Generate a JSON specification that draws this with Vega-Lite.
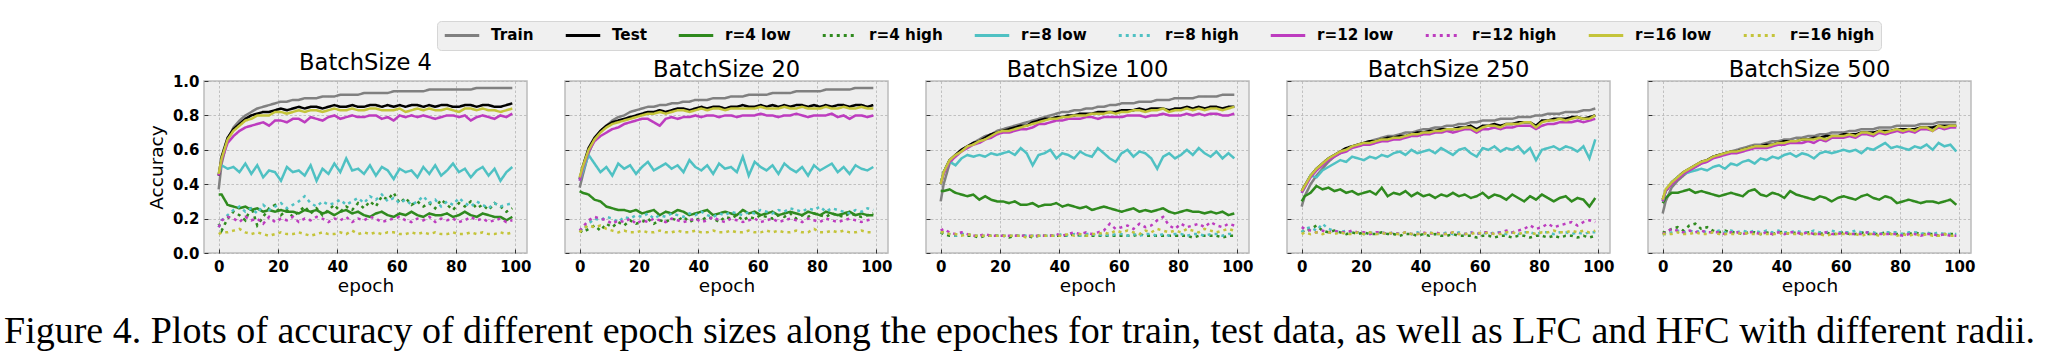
{
"$schema":"https://vega.github.io/schema/vega-lite/v6.json",
"background":"white",
"padding":{"left":4,"top":20,"right":0,"bottom":0},
"title":{"text":"Figure 4. Plots of accuracy of different epoch sizes along the epoches for train, test data, as well as LFC and HFC with different radii.","orient":"bottom","anchor":"start","frame":"group","font":"Liberation Serif","fontSize":38,"fontWeight":"normal","color":"#000000","offset":18,"dx":-200,"dy":0},
"datasets":{
"names":[{"k":"A","s":"Train"},{"k":"B","s":"Test"},{"k":"C","s":"r=4 low"},{"k":"D","s":"r=4 high"},{"k":"E","s":"r=8 low"},{"k":"F","s":"r=8 high"},{"k":"G","s":"r=12 low"},{"k":"H","s":"r=12 high"},{"k":"I","s":"r=16 low"},{"k":"J","s":"r=16 high"}],
"b4":[
{"e":0,"A":37,"B":45,"C":34,"D":17,"E":46,"F":15,"G":45,"H":15,"I":46,"J":11},
{"e":1,"A":52,"B":56,"C":34,"D":13,"E":51,"F":19,"G":54,"H":19,"I":55,"J":12},
{"e":3,"A":66,"B":67,"C":28,"D":20,"E":49,"F":22,"G":64,"H":21,"I":66,"J":12},
{"e":5,"A":73,"B":72,"C":27,"D":24,"E":50,"F":25,"G":68,"H":20,"I":71,"J":13},
{"e":7,"A":77,"B":75,"C":26,"D":22,"E":47,"F":27,"G":71,"H":18,"I":74,"J":14},
{"e":9,"A":80,"B":78,"C":27,"D":19,"E":52,"F":24,"G":73,"H":21,"I":77,"J":12},
{"e":11,"A":82,"B":80,"C":25,"D":27,"E":46,"F":26,"G":74,"H":19,"I":78,"J":11},
{"e":13,"A":84,"B":81,"C":26,"D":16,"E":51,"F":23,"G":75,"H":20,"I":80,"J":12},
{"e":15,"A":85,"B":82,"C":24,"D":21,"E":44,"F":28,"G":76,"H":17,"I":80,"J":11},
{"e":17,"A":86,"B":82,"C":25,"D":26,"E":48,"F":25,"G":74,"H":21,"I":80,"J":10},
{"e":19,"A":87,"B":83,"C":24,"D":28,"E":47,"F":27,"G":77,"H":18,"I":82,"J":11},
{"e":21,"A":88,"B":84,"C":25,"D":22,"E":42,"F":29,"G":77,"H":20,"I":82,"J":12},
{"e":23,"A":88,"B":83,"C":24,"D":25,"E":50,"F":26,"G":76,"H":19,"I":81,"J":11},
{"e":25,"A":89,"B":84,"C":24,"D":21,"E":47,"F":28,"G":78,"H":21,"I":82,"J":11},
{"e":27,"A":89,"B":85,"C":23,"D":24,"E":48,"F":30,"G":78,"H":18,"I":83,"J":12},
{"e":29,"A":90,"B":84,"C":25,"D":27,"E":45,"F":33,"G":76,"H":20,"I":82,"J":11},
{"e":31,"A":90,"B":85,"C":24,"D":23,"E":51,"F":29,"G":79,"H":19,"I":83,"J":10},
{"e":33,"A":90,"B":85,"C":25,"D":26,"E":42,"F":27,"G":78,"H":21,"I":83,"J":11},
{"e":35,"A":91,"B":84,"C":23,"D":22,"E":49,"F":30,"G":77,"H":20,"I":82,"J":12},
{"e":37,"A":91,"B":85,"C":24,"D":25,"E":46,"F":28,"G":79,"H":18,"I":83,"J":11},
{"e":39,"A":91,"B":86,"C":22,"D":28,"E":52,"F":29,"G":80,"H":20,"I":84,"J":11},
{"e":41,"A":92,"B":85,"C":24,"D":24,"E":47,"F":31,"G":78,"H":19,"I":83,"J":12},
{"e":43,"A":92,"B":85,"C":25,"D":27,"E":55,"F":28,"G":79,"H":21,"I":83,"J":11},
{"e":45,"A":92,"B":86,"C":23,"D":25,"E":48,"F":30,"G":80,"H":18,"I":84,"J":13},
{"e":47,"A":92,"B":85,"C":24,"D":29,"E":49,"F":32,"G":79,"H":20,"I":83,"J":11},
{"e":49,"A":93,"B":85,"C":22,"D":26,"E":46,"F":29,"G":79,"H":19,"I":83,"J":12},
{"e":51,"A":93,"B":86,"C":21,"D":30,"E":51,"F":33,"G":80,"H":21,"I":84,"J":11},
{"e":53,"A":93,"B":86,"C":23,"D":27,"E":45,"F":31,"G":80,"H":20,"I":84,"J":12},
{"e":55,"A":93,"B":85,"C":24,"D":33,"E":50,"F":34,"G":78,"H":18,"I":83,"J":11},
{"e":57,"A":93,"B":86,"C":22,"D":31,"E":48,"F":30,"G":79,"H":19,"I":83,"J":12},
{"e":59,"A":94,"B":85,"C":21,"D":35,"E":43,"F":32,"G":77,"H":20,"I":83,"J":12},
{"e":61,"A":94,"B":86,"C":23,"D":29,"E":49,"F":29,"G":80,"H":21,"I":84,"J":11},
{"e":63,"A":94,"B":85,"C":22,"D":32,"E":47,"F":31,"G":79,"H":19,"I":82,"J":11},
{"e":65,"A":94,"B":86,"C":24,"D":28,"E":48,"F":28,"G":80,"H":18,"I":83,"J":12},
{"e":67,"A":94,"B":86,"C":22,"D":30,"E":44,"F":30,"G":79,"H":20,"I":84,"J":11},
{"e":69,"A":94,"B":85,"C":21,"D":27,"E":50,"F":33,"G":80,"H":19,"I":83,"J":12},
{"e":71,"A":95,"B":86,"C":23,"D":29,"E":46,"F":29,"G":79,"H":21,"I":84,"J":11},
{"e":73,"A":95,"B":85,"C":22,"D":26,"E":51,"F":31,"G":78,"H":18,"I":83,"J":12},
{"e":75,"A":95,"B":86,"C":22,"D":31,"E":45,"F":27,"G":79,"H":20,"I":83,"J":11},
{"e":77,"A":95,"B":86,"C":23,"D":28,"E":48,"F":30,"G":80,"H":19,"I":84,"J":11},
{"e":79,"A":95,"B":85,"C":21,"D":25,"E":52,"F":28,"G":80,"H":20,"I":83,"J":12},
{"e":81,"A":95,"B":85,"C":22,"D":29,"E":47,"F":32,"G":79,"H":18,"I":82,"J":11},
{"e":83,"A":95,"B":86,"C":24,"D":27,"E":49,"F":29,"G":80,"H":19,"I":84,"J":11},
{"e":85,"A":95,"B":86,"C":22,"D":30,"E":44,"F":27,"G":77,"H":21,"I":84,"J":12},
{"e":87,"A":96,"B":85,"C":21,"D":26,"E":48,"F":30,"G":79,"H":19,"I":83,"J":11},
{"e":89,"A":96,"B":86,"C":23,"D":28,"E":50,"F":28,"G":80,"H":20,"I":84,"J":12},
{"e":91,"A":96,"B":86,"C":22,"D":25,"E":45,"F":26,"G":79,"H":18,"I":83,"J":11},
{"e":93,"A":96,"B":85,"C":21,"D":29,"E":49,"F":29,"G":78,"H":19,"I":83,"J":11},
{"e":95,"A":96,"B":85,"C":21,"D":27,"E":42,"F":27,"G":80,"H":20,"I":82,"J":12},
{"e":97,"A":96,"B":86,"C":19,"D":24,"E":47,"F":28,"G":79,"H":18,"I":83,"J":11},
{"e":99,"A":96,"B":87,"C":21,"D":26,"E":50,"F":29,"G":81,"H":19,"I":84,"J":12}
],
"b20":[
{"e":0,"A":38,"B":43,"C":36,"D":13,"E":42,"F":14,"G":42,"H":13,"I":44,"J":12},
{"e":1,"A":45,"B":50,"C":35,"D":12,"E":47,"F":13,"G":49,"H":15,"I":50,"J":14},
{"e":3,"A":58,"B":61,"C":34,"D":14,"E":57,"F":17,"G":59,"H":19,"I":60,"J":16},
{"e":5,"A":66,"B":67,"C":31,"D":16,"E":52,"F":20,"G":65,"H":21,"I":66,"J":15},
{"e":7,"A":71,"B":71,"C":30,"D":13,"E":47,"F":19,"G":68,"H":20,"I":70,"J":16},
{"e":9,"A":74,"B":74,"C":27,"D":17,"E":50,"F":21,"G":70,"H":19,"I":73,"J":14},
{"e":11,"A":77,"B":76,"C":26,"D":15,"E":45,"F":20,"G":72,"H":17,"I":75,"J":13},
{"e":13,"A":79,"B":77,"C":25,"D":18,"E":52,"F":18,"G":73,"H":19,"I":76,"J":12},
{"e":15,"A":80,"B":78,"C":25,"D":16,"E":49,"F":21,"G":75,"H":18,"I":77,"J":13},
{"e":17,"A":82,"B":79,"C":24,"D":19,"E":51,"F":20,"G":76,"H":20,"I":78,"J":12},
{"e":19,"A":83,"B":80,"C":25,"D":17,"E":46,"F":22,"G":77,"H":17,"I":79,"J":12},
{"e":21,"A":84,"B":81,"C":23,"D":18,"E":50,"F":21,"G":78,"H":19,"I":80,"J":13},
{"e":23,"A":85,"B":82,"C":24,"D":20,"E":53,"F":23,"G":78,"H":18,"I":81,"J":12},
{"e":25,"A":85,"B":82,"C":25,"D":17,"E":48,"F":20,"G":76,"H":20,"I":81,"J":12},
{"e":27,"A":86,"B":83,"C":22,"D":19,"E":50,"F":22,"G":74,"H":19,"I":82,"J":13},
{"e":29,"A":86,"B":82,"C":24,"D":18,"E":52,"F":21,"G":78,"H":18,"I":81,"J":12},
{"e":31,"A":87,"B":83,"C":23,"D":20,"E":49,"F":23,"G":79,"H":20,"I":82,"J":12},
{"e":33,"A":87,"B":84,"C":25,"D":19,"E":51,"F":22,"G":78,"H":19,"I":83,"J":13},
{"e":35,"A":88,"B":84,"C":24,"D":21,"E":47,"F":21,"G":79,"H":18,"I":83,"J":12},
{"e":37,"A":88,"B":83,"C":22,"D":18,"E":54,"F":23,"G":79,"H":19,"I":82,"J":12},
{"e":39,"A":89,"B":84,"C":23,"D":20,"E":50,"F":22,"G":80,"H":20,"I":83,"J":13},
{"e":41,"A":89,"B":85,"C":24,"D":19,"E":48,"F":24,"G":79,"H":18,"I":84,"J":12},
{"e":43,"A":89,"B":84,"C":25,"D":21,"E":51,"F":22,"G":80,"H":19,"I":83,"J":12},
{"e":45,"A":90,"B":85,"C":22,"D":20,"E":46,"F":21,"G":80,"H":21,"I":84,"J":13},
{"e":47,"A":90,"B":85,"C":23,"D":18,"E":52,"F":23,"G":79,"H":19,"I":84,"J":12},
{"e":49,"A":90,"B":84,"C":24,"D":21,"E":49,"F":22,"G":80,"H":18,"I":83,"J":12},
{"e":51,"A":91,"B":85,"C":23,"D":20,"E":50,"F":24,"G":80,"H":20,"I":84,"J":13},
{"e":53,"A":91,"B":85,"C":22,"D":22,"E":47,"F":23,"G":79,"H":19,"I":84,"J":12},
{"e":55,"A":91,"B":86,"C":25,"D":19,"E":56,"F":22,"G":80,"H":18,"I":84,"J":12},
{"e":57,"A":92,"B":85,"C":23,"D":21,"E":45,"F":24,"G":80,"H":19,"I":84,"J":13},
{"e":59,"A":92,"B":85,"C":24,"D":20,"E":53,"F":23,"G":80,"H":20,"I":84,"J":12},
{"e":61,"A":92,"B":86,"C":22,"D":22,"E":50,"F":25,"G":81,"H":18,"I":85,"J":12},
{"e":63,"A":92,"B":85,"C":23,"D":21,"E":48,"F":24,"G":80,"H":19,"I":84,"J":13},
{"e":65,"A":93,"B":86,"C":24,"D":20,"E":51,"F":23,"G":80,"H":20,"I":84,"J":12},
{"e":67,"A":93,"B":85,"C":22,"D":22,"E":46,"F":25,"G":79,"H":18,"I":84,"J":13},
{"e":69,"A":93,"B":86,"C":23,"D":21,"E":52,"F":24,"G":80,"H":19,"I":85,"J":12},
{"e":71,"A":93,"B":85,"C":24,"D":23,"E":49,"F":26,"G":80,"H":20,"I":84,"J":12},
{"e":73,"A":94,"B":86,"C":23,"D":20,"E":47,"F":25,"G":81,"H":19,"I":84,"J":13},
{"e":75,"A":94,"B":86,"C":22,"D":22,"E":50,"F":24,"G":80,"H":18,"I":85,"J":12},
{"e":77,"A":94,"B":85,"C":24,"D":21,"E":45,"F":26,"G":79,"H":20,"I":84,"J":12},
{"e":79,"A":94,"B":86,"C":23,"D":23,"E":51,"F":25,"G":80,"H":19,"I":84,"J":14},
{"e":81,"A":94,"B":85,"C":22,"D":22,"E":48,"F":27,"G":80,"H":18,"I":84,"J":12},
{"e":83,"A":95,"B":86,"C":24,"D":21,"E":50,"F":24,"G":80,"H":20,"I":85,"J":12},
{"e":85,"A":95,"B":85,"C":23,"D":23,"E":52,"F":26,"G":81,"H":19,"I":84,"J":13},
{"e":87,"A":95,"B":86,"C":22,"D":22,"E":47,"F":25,"G":79,"H":18,"I":84,"J":12},
{"e":89,"A":95,"B":86,"C":23,"D":21,"E":50,"F":24,"G":80,"H":19,"I":85,"J":13},
{"e":91,"A":95,"B":85,"C":24,"D":23,"E":46,"F":23,"G":78,"H":20,"I":84,"J":12},
{"e":93,"A":96,"B":86,"C":22,"D":22,"E":51,"F":25,"G":80,"H":19,"I":84,"J":12},
{"e":95,"A":96,"B":86,"C":23,"D":21,"E":49,"F":24,"G":80,"H":18,"I":85,"J":13},
{"e":97,"A":96,"B":85,"C":22,"D":22,"E":48,"F":26,"G":79,"H":19,"I":84,"J":12},
{"e":99,"A":96,"B":86,"C":22,"D":23,"E":50,"F":25,"G":80,"H":20,"I":84,"J":12}
],
"b100":[
{"e":0,"A":30,"B":40,"C":36,"D":12,"E":40,"F":12,"G":40,"H":13,"I":40,"J":12},
{"e":1,"A":40,"B":47,"C":36,"D":11,"E":47,"F":12,"G":46,"H":14,"I":47,"J":12},
{"e":3,"A":52,"B":54,"C":37,"D":10,"E":53,"F":11,"G":53,"H":12,"I":54,"J":11},
{"e":5,"A":57,"B":57,"C":35,"D":10,"E":51,"F":10,"G":56,"H":11,"I":57,"J":11},
{"e":7,"A":60,"B":60,"C":34,"D":11,"E":55,"F":11,"G":59,"H":12,"I":59,"J":10},
{"e":9,"A":62,"B":62,"C":33,"D":10,"E":57,"F":11,"G":61,"H":11,"I":62,"J":11},
{"e":11,"A":64,"B":64,"C":34,"D":10,"E":56,"F":10,"G":63,"H":10,"I":63,"J":10},
{"e":13,"A":66,"B":65,"C":31,"D":9,"E":57,"F":10,"G":64,"H":10,"I":65,"J":10},
{"e":15,"A":68,"B":67,"C":33,"D":10,"E":56,"F":10,"G":66,"H":11,"I":66,"J":10},
{"e":17,"A":69,"B":69,"C":31,"D":10,"E":58,"F":10,"G":67,"H":10,"I":68,"J":10},
{"e":19,"A":71,"B":70,"C":30,"D":10,"E":57,"F":10,"G":69,"H":10,"I":70,"J":10},
{"e":21,"A":72,"B":71,"C":30,"D":10,"E":58,"F":10,"G":70,"H":10,"I":71,"J":10},
{"e":23,"A":73,"B":72,"C":29,"D":9,"E":59,"F":10,"G":70,"H":10,"I":71,"J":10},
{"e":25,"A":74,"B":73,"C":30,"D":10,"E":57,"F":10,"G":71,"H":10,"I":72,"J":10},
{"e":27,"A":75,"B":74,"C":28,"D":10,"E":61,"F":10,"G":72,"H":10,"I":73,"J":10},
{"e":29,"A":76,"B":74,"C":28,"D":10,"E":58,"F":10,"G":72,"H":10,"I":74,"J":9},
{"e":31,"A":77,"B":76,"C":29,"D":9,"E":51,"F":10,"G":73,"H":10,"I":75,"J":10},
{"e":33,"A":78,"B":77,"C":27,"D":10,"E":57,"F":10,"G":75,"H":10,"I":76,"J":10},
{"e":35,"A":79,"B":78,"C":28,"D":10,"E":58,"F":10,"G":75,"H":10,"I":77,"J":10},
{"e":37,"A":80,"B":78,"C":28,"D":10,"E":60,"F":10,"G":76,"H":10,"I":78,"J":10},
{"e":39,"A":81,"B":79,"C":29,"D":10,"E":55,"F":10,"G":77,"H":11,"I":78,"J":10},
{"e":41,"A":82,"B":79,"C":27,"D":10,"E":58,"F":11,"G":77,"H":10,"I":79,"J":10},
{"e":43,"A":82,"B":80,"C":28,"D":10,"E":57,"F":10,"G":78,"H":11,"I":79,"J":11},
{"e":45,"A":83,"B":80,"C":27,"D":11,"E":55,"F":11,"G":78,"H":12,"I":80,"J":10},
{"e":47,"A":83,"B":81,"C":26,"D":10,"E":59,"F":10,"G":78,"H":11,"I":80,"J":11},
{"e":49,"A":84,"B":81,"C":27,"D":10,"E":57,"F":11,"G":79,"H":12,"I":80,"J":10},
{"e":51,"A":84,"B":81,"C":25,"D":10,"E":56,"F":11,"G":79,"H":11,"I":81,"J":11},
{"e":53,"A":85,"B":82,"C":26,"D":10,"E":61,"F":10,"G":78,"H":12,"I":81,"J":11},
{"e":55,"A":85,"B":82,"C":27,"D":10,"E":58,"F":11,"G":79,"H":13,"I":81,"J":12},
{"e":57,"A":86,"B":82,"C":26,"D":10,"E":55,"F":10,"G":79,"H":17,"I":82,"J":11},
{"e":59,"A":86,"B":82,"C":25,"D":10,"E":53,"F":11,"G":79,"H":14,"I":81,"J":13},
{"e":61,"A":87,"B":83,"C":24,"D":10,"E":58,"F":11,"G":79,"H":15,"I":82,"J":12},
{"e":63,"A":87,"B":83,"C":25,"D":10,"E":60,"F":10,"G":80,"H":16,"I":82,"J":13},
{"e":65,"A":87,"B":83,"C":26,"D":10,"E":56,"F":11,"G":80,"H":14,"I":83,"J":12},
{"e":67,"A":88,"B":84,"C":24,"D":11,"E":59,"F":10,"G":80,"H":17,"I":83,"J":11},
{"e":69,"A":88,"B":83,"C":25,"D":10,"E":58,"F":11,"G":79,"H":15,"I":82,"J":13},
{"e":71,"A":88,"B":84,"C":24,"D":10,"E":55,"F":11,"G":80,"H":16,"I":83,"J":12},
{"e":73,"A":89,"B":84,"C":25,"D":10,"E":49,"F":10,"G":80,"H":19,"I":83,"J":14},
{"e":75,"A":89,"B":84,"C":26,"D":10,"E":56,"F":11,"G":81,"H":21,"I":84,"J":13},
{"e":77,"A":89,"B":83,"C":24,"D":10,"E":58,"F":10,"G":80,"H":16,"I":82,"J":12},
{"e":79,"A":90,"B":84,"C":23,"D":10,"E":55,"F":11,"G":80,"H":14,"I":83,"J":13},
{"e":81,"A":90,"B":84,"C":24,"D":10,"E":57,"F":11,"G":80,"H":17,"I":83,"J":12},
{"e":83,"A":90,"B":85,"C":25,"D":10,"E":60,"F":10,"G":81,"H":15,"I":84,"J":14},
{"e":85,"A":90,"B":84,"C":24,"D":9,"E":57,"F":11,"G":80,"H":16,"I":83,"J":13},
{"e":87,"A":91,"B":85,"C":24,"D":10,"E":61,"F":11,"G":81,"H":17,"I":84,"J":12},
{"e":89,"A":91,"B":84,"C":23,"D":10,"E":58,"F":10,"G":80,"H":15,"I":83,"J":14},
{"e":91,"A":91,"B":85,"C":24,"D":10,"E":56,"F":11,"G":81,"H":18,"I":84,"J":13},
{"e":93,"A":91,"B":85,"C":23,"D":10,"E":59,"F":11,"G":81,"H":16,"I":84,"J":12},
{"e":95,"A":92,"B":84,"C":24,"D":9,"E":55,"F":10,"G":80,"H":15,"I":83,"J":13},
{"e":97,"A":92,"B":85,"C":22,"D":10,"E":58,"F":11,"G":80,"H":17,"I":84,"J":14},
{"e":99,"A":92,"B":85,"C":23,"D":10,"E":55,"F":11,"G":81,"H":16,"I":85,"J":13}
],
"b250":[
{"e":0,"A":27,"B":36,"C":30,"D":13,"E":35,"F":12,"G":35,"H":15,"I":36,"J":11},
{"e":1,"A":33,"B":39,"C":33,"D":12,"E":38,"F":14,"G":38,"H":14,"I":39,"J":12},
{"e":3,"A":40,"B":45,"C":35,"D":14,"E":45,"F":15,"G":44,"H":13,"I":45,"J":11},
{"e":5,"A":45,"B":49,"C":39,"D":16,"E":44,"F":13,"G":48,"H":12,"I":49,"J":12},
{"e":7,"A":49,"B":52,"C":37,"D":13,"E":48,"F":17,"G":51,"H":13,"I":52,"J":11},
{"e":9,"A":53,"B":55,"C":38,"D":12,"E":50,"F":14,"G":54,"H":12,"I":55,"J":12},
{"e":11,"A":56,"B":57,"C":36,"D":13,"E":52,"F":13,"G":56,"H":13,"I":57,"J":11},
{"e":13,"A":58,"B":59,"C":37,"D":12,"E":54,"F":12,"G":58,"H":12,"I":59,"J":12},
{"e":15,"A":60,"B":61,"C":35,"D":11,"E":53,"F":13,"G":59,"H":12,"I":60,"J":11},
{"e":17,"A":62,"B":62,"C":36,"D":12,"E":56,"F":12,"G":61,"H":13,"I":62,"J":11},
{"e":19,"A":63,"B":63,"C":34,"D":11,"E":55,"F":12,"G":62,"H":12,"I":63,"J":12},
{"e":21,"A":64,"B":64,"C":35,"D":12,"E":54,"F":11,"G":63,"H":12,"I":64,"J":11},
{"e":23,"A":65,"B":65,"C":36,"D":11,"E":56,"F":12,"G":63,"H":11,"I":64,"J":12},
{"e":25,"A":66,"B":65,"C":34,"D":11,"E":55,"F":11,"G":64,"H":12,"I":65,"J":11},
{"e":27,"A":67,"B":66,"C":38,"D":12,"E":57,"F":12,"G":65,"H":12,"I":66,"J":11},
{"e":29,"A":68,"B":67,"C":33,"D":11,"E":56,"F":11,"G":65,"H":11,"I":66,"J":12},
{"e":31,"A":68,"B":67,"C":35,"D":11,"E":58,"F":12,"G":66,"H":12,"I":67,"J":11},
{"e":33,"A":69,"B":68,"C":34,"D":10,"E":59,"F":11,"G":66,"H":11,"I":67,"J":11},
{"e":35,"A":70,"B":68,"C":36,"D":11,"E":57,"F":12,"G":67,"H":12,"I":68,"J":12},
{"e":37,"A":70,"B":69,"C":33,"D":11,"E":60,"F":11,"G":68,"H":11,"I":69,"J":11},
{"e":39,"A":71,"B":70,"C":35,"D":10,"E":58,"F":12,"G":68,"H":11,"I":69,"J":11},
{"e":41,"A":72,"B":70,"C":33,"D":11,"E":59,"F":11,"G":69,"H":12,"I":70,"J":11},
{"e":43,"A":72,"B":71,"C":34,"D":10,"E":60,"F":12,"G":69,"H":11,"I":70,"J":12},
{"e":45,"A":73,"B":71,"C":32,"D":11,"E":58,"F":11,"G":70,"H":12,"I":71,"J":11},
{"e":47,"A":73,"B":72,"C":34,"D":10,"E":61,"F":11,"G":70,"H":11,"I":71,"J":11},
{"e":49,"A":74,"B":72,"C":33,"D":10,"E":59,"F":12,"G":71,"H":11,"I":72,"J":11},
{"e":51,"A":74,"B":72,"C":35,"D":11,"E":57,"F":11,"G":70,"H":12,"I":72,"J":12},
{"e":53,"A":75,"B":73,"C":33,"D":10,"E":60,"F":12,"G":71,"H":11,"I":72,"J":11},
{"e":55,"A":75,"B":73,"C":34,"D":10,"E":61,"F":11,"G":72,"H":11,"I":73,"J":11},
{"e":57,"A":76,"B":74,"C":32,"D":10,"E":58,"F":12,"G":72,"H":12,"I":73,"J":11},
{"e":59,"A":76,"B":72,"C":33,"D":9,"E":56,"F":11,"G":70,"H":11,"I":71,"J":12},
{"e":61,"A":77,"B":74,"C":35,"D":10,"E":61,"F":12,"G":72,"H":12,"I":73,"J":11},
{"e":63,"A":77,"B":74,"C":32,"D":10,"E":60,"F":11,"G":72,"H":12,"I":74,"J":12},
{"e":65,"A":77,"B":75,"C":34,"D":9,"E":62,"F":12,"G":73,"H":11,"I":74,"J":11},
{"e":67,"A":78,"B":74,"C":33,"D":10,"E":59,"F":12,"G":72,"H":12,"I":73,"J":11},
{"e":69,"A":78,"B":75,"C":31,"D":10,"E":61,"F":11,"G":73,"H":13,"I":75,"J":12},
{"e":71,"A":78,"B":75,"C":34,"D":9,"E":60,"F":12,"G":73,"H":12,"I":75,"J":12},
{"e":73,"A":79,"B":76,"C":32,"D":10,"E":62,"F":11,"G":74,"H":13,"I":75,"J":11},
{"e":75,"A":79,"B":76,"C":30,"D":10,"E":58,"F":12,"G":74,"H":14,"I":76,"J":12},
{"e":77,"A":79,"B":76,"C":33,"D":9,"E":61,"F":12,"G":74,"H":16,"I":76,"J":12},
{"e":79,"A":80,"B":74,"C":31,"D":10,"E":54,"F":11,"G":72,"H":14,"I":73,"J":11},
{"e":81,"A":80,"B":77,"C":34,"D":10,"E":60,"F":12,"G":74,"H":15,"I":76,"J":12},
{"e":83,"A":81,"B":77,"C":32,"D":9,"E":61,"F":12,"G":75,"H":17,"I":77,"J":12},
{"e":85,"A":81,"B":78,"C":30,"D":10,"E":62,"F":11,"G":75,"H":15,"I":77,"J":13},
{"e":87,"A":81,"B":78,"C":32,"D":9,"E":60,"F":12,"G":76,"H":16,"I":78,"J":12},
{"e":89,"A":82,"B":78,"C":33,"D":10,"E":62,"F":12,"G":76,"H":17,"I":77,"J":12},
{"e":91,"A":82,"B":79,"C":30,"D":10,"E":61,"F":11,"G":76,"H":18,"I":78,"J":13},
{"e":93,"A":82,"B":79,"C":32,"D":9,"E":59,"F":12,"G":77,"H":16,"I":79,"J":12},
{"e":95,"A":83,"B":78,"C":31,"D":10,"E":62,"F":11,"G":76,"H":18,"I":78,"J":13},
{"e":97,"A":83,"B":79,"C":27,"D":9,"E":55,"F":12,"G":77,"H":19,"I":78,"J":12},
{"e":99,"A":84,"B":80,"C":32,"D":10,"E":66,"F":12,"G":78,"H":18,"I":80,"J":13}
],
"b500":[
{"e":0,"A":23,"B":31,"C":29,"D":12,"E":30,"F":11,"G":30,"H":11,"I":31,"J":11},
{"e":1,"A":30,"B":36,"C":32,"D":12,"E":36,"F":11,"G":36,"H":12,"I":37,"J":11},
{"e":3,"A":38,"B":41,"C":35,"D":14,"E":41,"F":12,"G":40,"H":14,"I":41,"J":11},
{"e":5,"A":42,"B":44,"C":35,"D":15,"E":44,"F":13,"G":43,"H":13,"I":44,"J":12},
{"e":7,"A":45,"B":47,"C":36,"D":13,"E":46,"F":12,"G":46,"H":12,"I":47,"J":11},
{"e":9,"A":48,"B":49,"C":37,"D":16,"E":47,"F":13,"G":48,"H":13,"I":49,"J":11},
{"e":11,"A":50,"B":51,"C":35,"D":17,"E":48,"F":12,"G":50,"H":12,"I":51,"J":12},
{"e":13,"A":52,"B":53,"C":36,"D":14,"E":49,"F":13,"G":52,"H":13,"I":53,"J":11},
{"e":15,"A":54,"B":54,"C":35,"D":15,"E":48,"F":12,"G":53,"H":12,"I":54,"J":11},
{"e":17,"A":56,"B":56,"C":34,"D":13,"E":50,"F":12,"G":55,"H":12,"I":56,"J":12},
{"e":19,"A":57,"B":57,"C":33,"D":12,"E":51,"F":13,"G":56,"H":12,"I":57,"J":11},
{"e":21,"A":58,"B":58,"C":34,"D":13,"E":49,"F":12,"G":57,"H":11,"I":58,"J":11},
{"e":23,"A":59,"B":59,"C":35,"D":12,"E":52,"F":13,"G":58,"H":12,"I":59,"J":11},
{"e":25,"A":60,"B":59,"C":34,"D":12,"E":51,"F":12,"G":58,"H":12,"I":59,"J":11},
{"e":27,"A":61,"B":60,"C":33,"D":11,"E":53,"F":13,"G":59,"H":11,"I":60,"J":12},
{"e":29,"A":62,"B":61,"C":36,"D":12,"E":54,"F":12,"G":60,"H":12,"I":61,"J":11},
{"e":31,"A":63,"B":62,"C":37,"D":12,"E":52,"F":13,"G":61,"H":12,"I":62,"J":11},
{"e":33,"A":63,"B":62,"C":34,"D":11,"E":55,"F":12,"G":61,"H":11,"I":62,"J":11},
{"e":35,"A":64,"B":63,"C":33,"D":12,"E":54,"F":13,"G":61,"H":12,"I":62,"J":11},
{"e":37,"A":65,"B":63,"C":35,"D":11,"E":56,"F":12,"G":62,"H":11,"I":63,"J":11},
{"e":39,"A":65,"B":64,"C":34,"D":12,"E":55,"F":13,"G":63,"H":12,"I":64,"J":11},
{"e":41,"A":66,"B":65,"C":32,"D":12,"E":57,"F":12,"G":63,"H":11,"I":64,"J":12},
{"e":43,"A":66,"B":65,"C":36,"D":11,"E":58,"F":12,"G":64,"H":12,"I":65,"J":11},
{"e":45,"A":67,"B":65,"C":34,"D":12,"E":56,"F":13,"G":64,"H":12,"I":65,"J":11},
{"e":47,"A":67,"B":66,"C":33,"D":11,"E":58,"F":12,"G":64,"H":11,"I":66,"J":11},
{"e":49,"A":68,"B":66,"C":32,"D":12,"E":57,"F":12,"G":65,"H":12,"I":66,"J":11},
{"e":51,"A":68,"B":67,"C":31,"D":11,"E":55,"F":13,"G":64,"H":11,"I":66,"J":11},
{"e":53,"A":69,"B":67,"C":33,"D":11,"E":58,"F":12,"G":66,"H":11,"I":67,"J":11},
{"e":55,"A":69,"B":68,"C":32,"D":12,"E":59,"F":12,"G":65,"H":12,"I":66,"J":10},
{"e":57,"A":70,"B":68,"C":30,"D":11,"E":58,"F":13,"G":67,"H":11,"I":68,"J":11},
{"e":59,"A":70,"B":68,"C":32,"D":11,"E":59,"F":12,"G":67,"H":11,"I":68,"J":11},
{"e":61,"A":70,"B":69,"C":33,"D":12,"E":60,"F":12,"G":67,"H":12,"I":68,"J":11},
{"e":63,"A":71,"B":69,"C":32,"D":11,"E":59,"F":12,"G":68,"H":11,"I":69,"J":11},
{"e":65,"A":71,"B":69,"C":31,"D":11,"E":60,"F":13,"G":67,"H":11,"I":68,"J":11},
{"e":67,"A":72,"B":70,"C":33,"D":12,"E":58,"F":12,"G":69,"H":11,"I":70,"J":10},
{"e":69,"A":72,"B":70,"C":34,"D":11,"E":61,"F":12,"G":69,"H":12,"I":70,"J":11},
{"e":71,"A":72,"B":70,"C":32,"D":11,"E":60,"F":12,"G":68,"H":11,"I":69,"J":11},
{"e":73,"A":73,"B":71,"C":31,"D":11,"E":62,"F":11,"G":70,"H":11,"I":71,"J":10},
{"e":75,"A":73,"B":71,"C":33,"D":12,"E":64,"F":12,"G":69,"H":11,"I":70,"J":11},
{"e":77,"A":73,"B":71,"C":32,"D":11,"E":61,"F":12,"G":70,"H":11,"I":71,"J":11},
{"e":79,"A":74,"B":72,"C":29,"D":11,"E":62,"F":12,"G":71,"H":11,"I":72,"J":10},
{"e":81,"A":74,"B":72,"C":30,"D":11,"E":61,"F":11,"G":70,"H":10,"I":71,"J":11},
{"e":83,"A":74,"B":72,"C":31,"D":11,"E":60,"F":12,"G":71,"H":11,"I":72,"J":10},
{"e":85,"A":74,"B":72,"C":30,"D":12,"E":62,"F":12,"G":70,"H":11,"I":71,"J":11},
{"e":87,"A":75,"B":73,"C":29,"D":11,"E":61,"F":11,"G":72,"H":10,"I":73,"J":10},
{"e":89,"A":75,"B":73,"C":30,"D":11,"E":63,"F":12,"G":72,"H":11,"I":73,"J":11},
{"e":91,"A":75,"B":73,"C":30,"D":11,"E":60,"F":11,"G":71,"H":11,"I":71,"J":10},
{"e":93,"A":76,"B":74,"C":29,"D":10,"E":64,"F":12,"G":73,"H":10,"I":74,"J":10},
{"e":95,"A":76,"B":74,"C":30,"D":11,"E":62,"F":11,"G":72,"H":11,"I":73,"J":11},
{"e":97,"A":76,"B":74,"C":31,"D":11,"E":63,"F":11,"G":73,"H":10,"I":74,"J":10},
{"e":99,"A":76,"B":74,"C":28,"D":11,"E":59,"F":11,"G":73,"H":10,"I":74,"J":10}
]
},
"spacing":38,
"bounds":"flush",
"resolve":{"scale":{"color":"shared","strokeDash":"shared"},"legend":{"color":"shared","strokeDash":"shared"}},
"hconcat":[
{"data":{"name":"b4"},"transform":[{"fold":["A","B","C","D","E","F","G","H","I","J"],"as":["k","v"]},{"lookup":"k","from":{"data":{"name":"names"},"key":"k","fields":["s"]}}],
"title":"BatchSize 4","width":323,"height":172,"mark":{"type":"line","strokeWidth":2.5},
"encoding":{
"x":{"field":"e","type":"quantitative","scale":{"domain":[-4.95,103.95],"nice":false,"zero":false},"axis":{"values":[0,20,40,60,80,100],"title":"epoch"}},
"y":{"field":"v","type":"quantitative","scale":{"domain":[0,100],"nice":false},"axis":{"values":[0,20,40,60,80,100],"title":"Accuracy","labelExpr":"format(datum.value/100,'.1f')"}},
"color":{"field":"s","type":"nominal","scale":{"domain":["Train","Test","r=4 low","r=4 high","r=8 low","r=8 high","r=12 low","r=12 high","r=16 low","r=16 high"],"range":["#808080","#000000","#2f8a1e","#2f8a1e","#4fc1c3","#4fc1c3","#bd3cbf","#bd3cbf","#c4c43a","#c4c43a"]},"legend":{"title":null,"orient":"none","legendX":233,"legendY":-60,"direction":"horizontal","columns":10}},
"strokeDash":{"field":"s","type":"nominal","scale":{"domain":["Train","Test","r=4 low","r=4 high","r=8 low","r=8 high","r=12 low","r=12 high","r=16 low","r=16 high"],"range":[[1,0],[1,0],[1,0],[3,4],[1,0],[3,4],[1,0],[3,4],[1,0],[3,4]]},"legend":{"title":null,"orient":"none","legendX":233,"legendY":-60,"direction":"horizontal","columns":10}}}},
{"data":{"name":"b20"},"transform":[{"fold":["A","B","C","D","E","F","G","H","I","J"],"as":["k","v"]},{"lookup":"k","from":{"data":{"name":"names"},"key":"k","fields":["s"]}}],
"title":"BatchSize 20","width":323,"height":172,"mark":{"type":"line","strokeWidth":2.5},
"encoding":{
"x":{"field":"e","type":"quantitative","scale":{"domain":[-4.95,103.95],"nice":false,"zero":false},"axis":{"values":[0,20,40,60,80,100],"title":"epoch"}},
"y":{"field":"v","type":"quantitative","scale":{"domain":[0,100],"nice":false},"axis":{"values":[0,20,40,60,80,100],"title":null,"labels":false}},
"color":{"field":"s","type":"nominal","scale":{"domain":["Train","Test","r=4 low","r=4 high","r=8 low","r=8 high","r=12 low","r=12 high","r=16 low","r=16 high"],"range":["#808080","#000000","#2f8a1e","#2f8a1e","#4fc1c3","#4fc1c3","#bd3cbf","#bd3cbf","#c4c43a","#c4c43a"]},"legend":{"title":null,"orient":"none","legendX":233,"legendY":-60,"direction":"horizontal","columns":10}},
"strokeDash":{"field":"s","type":"nominal","scale":{"domain":["Train","Test","r=4 low","r=4 high","r=8 low","r=8 high","r=12 low","r=12 high","r=16 low","r=16 high"],"range":[[1,0],[1,0],[1,0],[3,4],[1,0],[3,4],[1,0],[3,4],[1,0],[3,4]]},"legend":{"title":null,"orient":"none","legendX":233,"legendY":-60,"direction":"horizontal","columns":10}}}},
{"data":{"name":"b100"},"transform":[{"fold":["A","B","C","D","E","F","G","H","I","J"],"as":["k","v"]},{"lookup":"k","from":{"data":{"name":"names"},"key":"k","fields":["s"]}}],
"title":"BatchSize 100","width":323,"height":172,"mark":{"type":"line","strokeWidth":2.5},
"encoding":{
"x":{"field":"e","type":"quantitative","scale":{"domain":[-4.95,103.95],"nice":false,"zero":false},"axis":{"values":[0,20,40,60,80,100],"title":"epoch"}},
"y":{"field":"v","type":"quantitative","scale":{"domain":[0,100],"nice":false},"axis":{"values":[0,20,40,60,80,100],"title":null,"labels":false}},
"color":{"field":"s","type":"nominal","scale":{"domain":["Train","Test","r=4 low","r=4 high","r=8 low","r=8 high","r=12 low","r=12 high","r=16 low","r=16 high"],"range":["#808080","#000000","#2f8a1e","#2f8a1e","#4fc1c3","#4fc1c3","#bd3cbf","#bd3cbf","#c4c43a","#c4c43a"]},"legend":{"title":null,"orient":"none","legendX":233,"legendY":-60,"direction":"horizontal","columns":10}},
"strokeDash":{"field":"s","type":"nominal","scale":{"domain":["Train","Test","r=4 low","r=4 high","r=8 low","r=8 high","r=12 low","r=12 high","r=16 low","r=16 high"],"range":[[1,0],[1,0],[1,0],[3,4],[1,0],[3,4],[1,0],[3,4],[1,0],[3,4]]},"legend":{"title":null,"orient":"none","legendX":233,"legendY":-60,"direction":"horizontal","columns":10}}}},
{"data":{"name":"b250"},"transform":[{"fold":["A","B","C","D","E","F","G","H","I","J"],"as":["k","v"]},{"lookup":"k","from":{"data":{"name":"names"},"key":"k","fields":["s"]}}],
"title":"BatchSize 250","width":323,"height":172,"mark":{"type":"line","strokeWidth":2.5},
"encoding":{
"x":{"field":"e","type":"quantitative","scale":{"domain":[-4.95,103.95],"nice":false,"zero":false},"axis":{"values":[0,20,40,60,80,100],"title":"epoch"}},
"y":{"field":"v","type":"quantitative","scale":{"domain":[0,100],"nice":false},"axis":{"values":[0,20,40,60,80,100],"title":null,"labels":false}},
"color":{"field":"s","type":"nominal","scale":{"domain":["Train","Test","r=4 low","r=4 high","r=8 low","r=8 high","r=12 low","r=12 high","r=16 low","r=16 high"],"range":["#808080","#000000","#2f8a1e","#2f8a1e","#4fc1c3","#4fc1c3","#bd3cbf","#bd3cbf","#c4c43a","#c4c43a"]},"legend":{"title":null,"orient":"none","legendX":233,"legendY":-60,"direction":"horizontal","columns":10}},
"strokeDash":{"field":"s","type":"nominal","scale":{"domain":["Train","Test","r=4 low","r=4 high","r=8 low","r=8 high","r=12 low","r=12 high","r=16 low","r=16 high"],"range":[[1,0],[1,0],[1,0],[3,4],[1,0],[3,4],[1,0],[3,4],[1,0],[3,4]]},"legend":{"title":null,"orient":"none","legendX":233,"legendY":-60,"direction":"horizontal","columns":10}}}},
{"data":{"name":"b500"},"transform":[{"fold":["A","B","C","D","E","F","G","H","I","J"],"as":["k","v"]},{"lookup":"k","from":{"data":{"name":"names"},"key":"k","fields":["s"]}}],
"title":"BatchSize 500","width":323,"height":172,"mark":{"type":"line","strokeWidth":2.5},
"encoding":{
"x":{"field":"e","type":"quantitative","scale":{"domain":[-4.95,103.95],"nice":false,"zero":false},"axis":{"values":[0,20,40,60,80,100],"title":"epoch"}},
"y":{"field":"v","type":"quantitative","scale":{"domain":[0,100],"nice":false},"axis":{"values":[0,20,40,60,80,100],"title":null,"labels":false}},
"color":{"field":"s","type":"nominal","scale":{"domain":["Train","Test","r=4 low","r=4 high","r=8 low","r=8 high","r=12 low","r=12 high","r=16 low","r=16 high"],"range":["#808080","#000000","#2f8a1e","#2f8a1e","#4fc1c3","#4fc1c3","#bd3cbf","#bd3cbf","#c4c43a","#c4c43a"]},"legend":{"title":null,"orient":"none","legendX":233,"legendY":-60,"direction":"horizontal","columns":10}},
"strokeDash":{"field":"s","type":"nominal","scale":{"domain":["Train","Test","r=4 low","r=4 high","r=8 low","r=8 high","r=12 low","r=12 high","r=16 low","r=16 high"],"range":[[1,0],[1,0],[1,0],[3,4],[1,0],[3,4],[1,0],[3,4],[1,0],[3,4]]},"legend":{"title":null,"orient":"none","legendX":233,"legendY":-60,"direction":"horizontal","columns":10}}}}
],
"config":{
"font":"DejaVu Sans",
"view":{"stroke":"#bcbcbc","strokeWidth":1.5,"fill":"#eeeeee"},
"axis":{"domain":false,"grid":true,"gridColor":"#b4b4b4","gridDash":[2.5,2],"gridWidth":0.8,"ticks":true,"tickColor":"#333333","tickSize":-4,"tickWidth":1,"labelFont":"DejaVu Sans","labelFontWeight":"bold","labelFontSize":15,"labelColor":"#000000","labelFlush":false,"labelOverlap":false,"titleFont":"DejaVu Sans","titleFontWeight":"normal","titleFontSize":18.5,"titleColor":"#000000","minExtent":0},
"axisX":{"labelPadding":10,"titlePadding":2},
"axisY":{"labelPadding":9,"titlePadding":6},
"title":{"font":"DejaVu Sans","fontSize":22.6,"fontWeight":"normal","color":"#000000","offset":0,"dy":5,"anchor":"middle"},
"legend":{"symbolType":"stroke","symbolSize":1190,"symbolStrokeWidth":3,"labelFont":"DejaVu Sans","labelFontSize":15.2,"labelFontWeight":"bold","labelColor":"#000000","labelOffset":10,"columnPadding":30,"padding":6,"fillColor":"#f0f0f0","strokeColor":"#d6d6d6","cornerRadius":4,"clipHeight":16,"labelLimit":300}
}
}
